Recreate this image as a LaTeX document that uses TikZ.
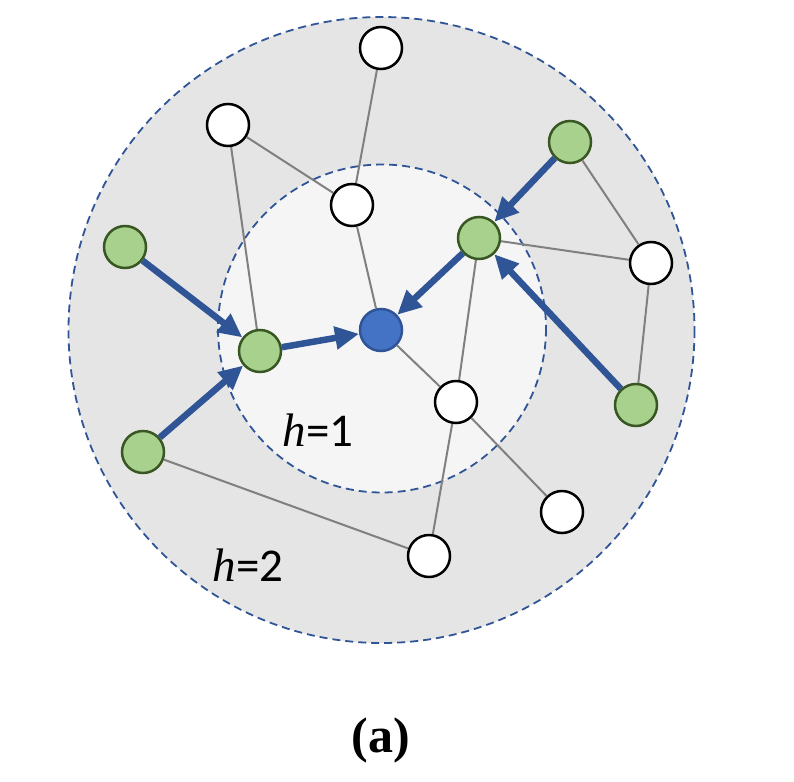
\documentclass[tikz,border=0pt]{standalone}
\usepackage{fontspec}
\setmainfont{Carlito}
\newfontfamily\capfont{Liberation Serif}
\usepackage{tikz}
\usetikzlibrary{arrows.meta}
\definecolor{ringblue}{HTML}{2F5597}
\definecolor{hopgreen}{HTML}{A9D18E}
\definecolor{hopborder}{HTML}{385723}
\definecolor{rootblue}{HTML}{4472C4}
\tikzstyle{vertex}=[circle,draw=black,fill=white,line width=2.5pt,minimum size=42pt,inner sep=0pt]
\tikzstyle{Gvertex}=[vertex,draw=hopborder,fill=hopgreen]
\tikzstyle{Rvertex}=[vertex,draw=ringblue,fill=rootblue]
\tikzstyle{edge}=[draw=black!50,line width=2pt]
\tikzstyle{msg}=[draw=ringblue,line width=6.5pt,-{Triangle[length=24pt,width=22pt]}]
\tikzstyle{ring}=[draw=ringblue,line width=1.8pt,dash pattern=on 8pt off 5pt]
\tikzstyle{hlabel}=[font=\fontsize{47}{50}\selectfont,inner sep=0pt]
\newcommand{\hop}{{\capfont\itshape h}}

\begin{document}
\begin{tikzpicture}[x=1pt,y=-1pt]
    \useasboundingbox (0,0) rectangle (794,781);
    % hop rings
    \fill[black!10] (381.5,330) circle (313);
    \draw[ring] (381.5,330) circle (313);
    \fill[black!4] (382,328.5) circle (164);
    \draw[ring] (382,328.5) circle (164);
    \node[hlabel] (H1) at (318,430) {\hop=1};
    \node[hlabel] (H2) at (248,565) {\hop=2};
    % vertices
    \node[vertex] (WA) at (381,48)   {};
    \node[vertex] (WB) at (228,125)  {};
    \node[vertex] (WC) at (352,205)  {};
    \node[vertex] (WD) at (651,263)  {};
    \node[vertex] (WE) at (456,402)  {};
    \node[vertex] (WF) at (562,512)  {};
    \node[vertex] (WG) at (429,556)  {};
    \node[Gvertex] (G1) at (260,351) {};
    \node[Gvertex] (G2) at (479,238) {};
    \node[Gvertex] (G3) at (125,247) {};
    \node[Gvertex] (G4) at (143,452) {};
    \node[Gvertex] (G5) at (570,142) {};
    \node[Gvertex] (G6) at (636,405) {};
    \node[Rvertex] (R) at (381,330)  {};
    % edges
    \draw[edge] (WA) -- (WC);
    \draw[edge] (WB) -- (WC);
    \draw[edge] (WB) -- (G1);
    \draw[edge] (WC) -- (R);
    \draw[edge] (G5) -- (WD);
    \draw[edge] (G2) -- (WD);
    \draw[edge] (WD) -- (G6);
    \draw[edge] (G2) -- (WE);
    \draw[edge] (WE) -- (WG);
    \draw[edge] (R) -- (WE);
    \draw[edge] (WE) -- (WF);
    \draw[edge] (G4) -- (WG);
    % aggregation
    \draw[msg] (G3) -- (G1);
    \draw[msg] (G4) -- (G1);
    \draw[msg] (G1) -- (R);
    \draw[msg] (G2) -- (R);
    \draw[msg] (G5) -- (G2);
    \draw[msg] (G6) -- (G2);
    \node[font=\capfont\bfseries\fontsize{50}{54}\selectfont] (CAP) at (381,740) {(a)};
\end{tikzpicture}
\end{document}
